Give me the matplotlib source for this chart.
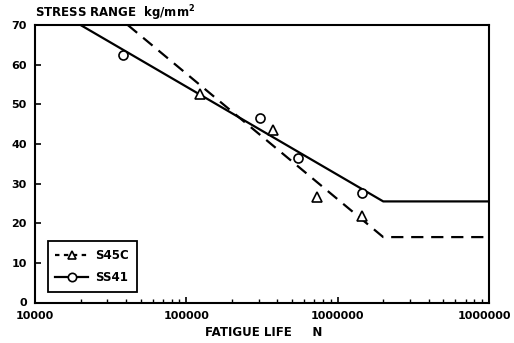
import matplotlib

matplotlib.use("Agg")
import matplotlib.pyplot as plt
from matplotlib.ticker import LogLocator, NullFormatter
from matplotlib.transforms import ScaledTranslation

# S-N lines (fatigue life N, stress range kg/mm2)
s45c_line_n = [4.1e4, 2.0e6, 1.0e7]
s45c_line_s = [70, 16.5, 16.5]
ss41_line_n = [2.0e4, 2.0e6, 1.0e7]
ss41_line_s = [70, 25.5, 25.5]

# test points
s45c_pts_n = [1.23e5, 3.72e5, 7.3e5, 1.44e6]
s45c_pts_s = [52.5, 43.5, 26.7, 21.8]
ss41_pts_n = [3.8e4, 3.07e5, 5.5e5, 1.44e6]
ss41_pts_s = [62.4, 46.5, 36.4, 27.5]

x_ticks = [1e4, 1e5, 1e6, 1e7]
x_tick_labels = ["10000", "100000", "1000000", "1000000"]
y_ticks = [0, 10, 20, 30, 40, 50, 60, 70]

plt.rcParams["font.family"] = ["DejaVu Sans"]
plt.rcParams["font.weight"] = "bold"

fig = plt.figure(figsize=(5.14, 3.43), dpi=100)
ax = fig.add_axes([35 / 514, 1 - 302.5 / 343, 454 / 514, 277.5 / 343])

ax.plot(s45c_line_n, s45c_line_s, color="black", lw=1.6, ls=(0, (5.5, 3.5)))
ax.plot(ss41_line_n, ss41_line_s, color="black", lw=1.6, ls="-")
ax.plot(s45c_pts_n, s45c_pts_s, ls="none", marker="^", ms=6.5,
        mfc="white", mec="black", mew=1.2)
ax.plot(ss41_pts_n, ss41_pts_s, ls="none", marker="o", ms=6.5,
        mfc="white", mec="black", mew=1.2)

# legend handles
h1, = ax.plot([], [], color="black", lw=1.6, ls=(0, (2, 2)), marker="^",
              ms=6, mfc="white", mec="black", mew=1.2)
h2, = ax.plot([], [], color="black", lw=1.6, ls="-", marker="o",
              ms=6, mfc="white", mec="black", mew=1.2)
leg = ax.legend([h1, h2], ["S45C", "SS41"], loc="lower left",
                bbox_to_anchor=(0.02, 0.025), fancybox=False, framealpha=1,
                edgecolor="black", handlelength=2.8, handletextpad=0.6,
                borderpad=0.65, borderaxespad=0.3, labelspacing=0.8,
                prop={"size": 8.5, "weight": "bold"})
leg.get_frame().set_linewidth(1.3)

ax.set_xscale("log")
ax.set_xlim(1e4, 1e7)
ax.set_ylim(0, 70)
ax.set_xticks(x_ticks)
ax.set_xticklabels(x_tick_labels)
ax.xaxis.set_minor_locator(LogLocator(base=10, subs=range(2, 10)))
ax.xaxis.set_minor_formatter(NullFormatter())
ax.set_yticks(y_ticks)

ax.tick_params(direction="in", length=4, width=1.2, labelsize=8, pad=6)
ax.tick_params(axis="x", which="minor", direction="in", length=3, width=1)
for sp in ax.spines.values():
    sp.set_linewidth(1.5)

# last tick label sits a bit left in the original
last = ax.get_xticklabels()[-1]
last.set_transform(last.get_transform() + ScaledTranslation(-5 / 100, 0, fig.dpi_scale_trans))

fig.text(35 / 514, 1 - 13 / 343, "STRESS RANGE  kg/mm$^\\mathbf{2}$",
         fontsize=8.5, fontweight="bold", va="center", ha="left")
fig.text(205 / 514, 1 - 332 / 343, "FATIGUE LIFE     N",
         fontsize=8.5, fontweight="bold", va="center", ha="left")

fig.savefig("out.png", dpi=100)
plt.close(fig)
